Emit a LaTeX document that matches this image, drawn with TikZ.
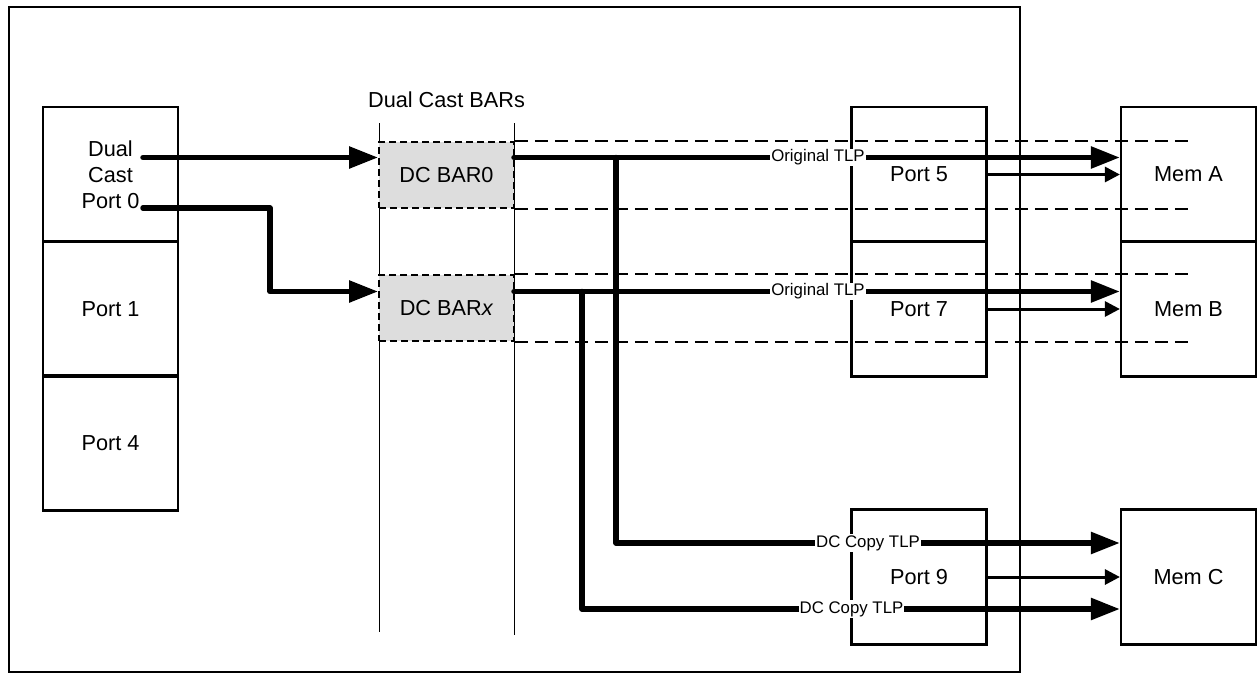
\documentclass[tikz,border=0pt]{standalone}
\usepackage{fontspec}
\setmainfont{Liberation Sans}
\usetikzlibrary{arrows.meta}
\definecolor{barfill}{HTML}{DDDDDD}
\newcommand\bigtxt{\fontsize{21.7}{26}\selectfont}
\newcommand\smalltxt{\fontsize{16.8}{20}\selectfont}
\begin{document}
\begin{tikzpicture}[x=1pt,y=-1pt,
  box/.style={draw, line width=2.2pt, minimum width=135pt, minimum height=135pt, inner sep=0pt, font=\bigtxt, align=center},
  barbox/.style={draw, line width=1.8pt, dash pattern=on 7pt off 4pt, fill=barfill, minimum width=135pt, minimum height=66pt, inner sep=0pt, font=\bigtxt},
  colline/.style={line width=1.3pt},
  dashline/.style={line width=2.3pt, dash pattern=on 13pt off 7pt},
  thickline/.style={line width=5.5pt, line cap=round, line join=round},
  thickarrow/.style={thickline, -{Triangle[length=29pt,width=21pt]}},
  thinarrow/.style={line width=3pt, -{Triangle[length=15pt,width=15pt]}},
  lbl/.style={fill=white, inner sep=1pt, font=\smalltxt},
  ttl/.style={font=\bigtxt, inner sep=0pt}]
\useasboundingbox (0,0) rectangle (1258,672);
% switch outline
\node[draw, line width=2.2pt, minimum width=1011pt, minimum height=665.5pt, inner sep=0pt] (sw) at (514.5,339.75) {};
% column lines
\coordinate (c1t) at (379.5,123); \coordinate (c1b) at (379.5,632);
\coordinate (c2t) at (514.5,123); \coordinate (c2b) at (514.5,635);
\draw[colline] (c1t) -- (c1b);
\draw[colline] (c2t) -- (c2b);
\node[ttl] (title) at (446.5,100) {Dual Cast BARs};
% boxes
\node[box] (p0) at (110.5,174.5) {Dual\\Cast\\Port 0};
\node[box] (p1) at (110.5,309) {Port 1};
\node[box] (p4) at (110.5,443) {Port 4};
\node[box] (p5) at (919,174.5) {Port 5};
\node[box] (p7) at (919,309) {Port 7};
\node[box] (p9) at (919,577) {Port 9};
\node[box] (ma) at (1188.5,174.5) {Mem A};
\node[box] (mb) at (1188.5,309) {Mem B};
\node[box] (mc) at (1188.5,577) {Mem C};
% BARs
\node[barbox] (b0) at (446.5,175) {DC BAR0};
\node[barbox] (bx) at (446.5,308) {DC BAR\textit{x}};
% dashed lines
\coordinate (dend) at (1190,0);
\draw[dashline] (b0.north east) -- (b0.north east -| dend);
\draw[dashline] (b0.south east) -- (b0.south east -| dend);
\draw[dashline] (bx.north east) -- (bx.north east -| dend);
\draw[dashline] (bx.south east) -- (bx.south east -| dend);
% input arrows
\coordinate (s0) at (143,157.5);
\draw[thickarrow] (s0) -- (s0 -| b0.west);
\coordinate (s1) at (143,208);
\coordinate (k1) at (270,208);
\coordinate (k2) at (270,291.5);
\draw[thickarrow] (s1) -- (k1) -- (k2) -- (k2 -| bx.west);
% outputs
\coordinate (o0) at (514,157.5);
\coordinate (j0) at (616,157.5);
\coordinate (j0b) at (616,543);
\draw[thickarrow] (o0) -- (o0 -| ma.west);
\draw[thickarrow] (j0) -- (j0b) -- (j0b -| mc.west);
\coordinate (o1) at (514,291.5);
\coordinate (j1) at (582,291.5);
\coordinate (j1b) at (582,609);
\draw[thickarrow] (o1) -- (o1 -| mb.west);
\draw[thickarrow] (j1) -- (j1b) -- (j1b -| mc.west);
% thin arrows
\draw[thinarrow] (p5.east) -- (ma.west);
\draw[thinarrow] (p7.east) -- (mb.west);
\draw[thinarrow] (p9.east) -- (mc.west);
% labels
\node[lbl] (l0) at (818,157.5) {Original TLP};
\node[lbl] (l1) at (818,291.5) {Original TLP};
\node[lbl] (l2) at (868,543) {DC Copy TLP};
\node[lbl] (l3) at (851.5,609) {DC Copy TLP};
\end{tikzpicture}
\end{document}
